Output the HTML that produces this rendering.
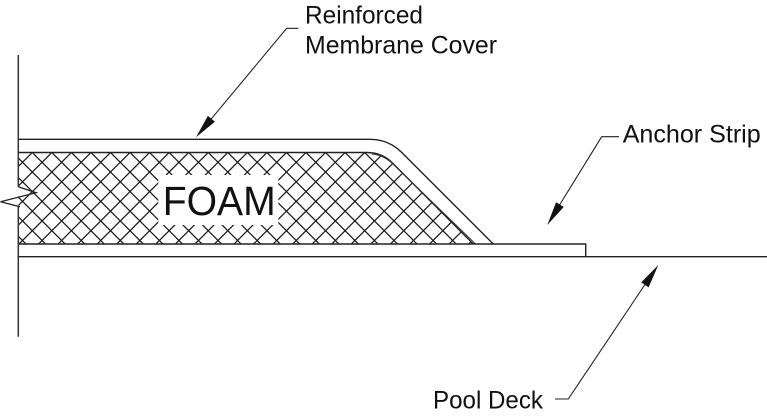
<!DOCTYPE html>
<html>
<head>
<meta charset="utf-8">
<style>
  html, body { margin: 0; padding: 0; background: #fff; }
  body { width: 767px; height: 416px; overflow: hidden; }
  svg { display: block; }
  text { font-family: "Liberation Sans", Arial, sans-serif; fill: #111; }
</style>
</head>
<body>
<svg width="767" height="416" viewBox="0 0 767 416" xmlns="http://www.w3.org/2000/svg">
  <defs>
    <clipPath id="foamclip">
      <path d="M18.3,152.5 H367 Q382,152.5 392.6,163.1 L473.3,244 H18.3 Z"/>
    </clipPath>
  </defs>

  <rect width="767" height="416" fill="#fff"/>

  <!-- Foam hatch -->
  <g clip-path="url(#foamclip)" fill="none" stroke="#1a1a1a" stroke-width="1.25">
    <path d="M-77.95,140 l110,110 M-58.4,140 l110,110 M-38.85,140 l110,110 M-19.3,140 l110,110 M0.25,140 l110,110 M19.8,140 l110,110 M39.35,140 l110,110 M58.9,140 l110,110 M78.45,140 l110,110 M98,140 l110,110 M117.55,140 l110,110 M137.1,140 l110,110 M156.65,140 l110,110 M176.2,140 l110,110 M195.75,140 l110,110 M215.3,140 l110,110 M234.85,140 l110,110 M254.4,140 l110,110 M273.95,140 l110,110 M293.5,140 l110,110 M313.05,140 l110,110 M332.6,140 l110,110 M352.15,140 l110,110 M371.7,140 l110,110 M391.25,140 l110,110 M410.8,140 l110,110 M430.35,140 l110,110 M449.9,140 l110,110"/>
    <path d="M25.25,140 l-110,110 M44.8,140 l-110,110 M64.35,140 l-110,110 M83.9,140 l-110,110 M103.45,140 l-110,110 M123,140 l-110,110 M142.55,140 l-110,110 M162.1,140 l-110,110 M181.65,140 l-110,110 M201.2,140 l-110,110 M220.75,140 l-110,110 M240.3,140 l-110,110 M259.85,140 l-110,110 M279.4,140 l-110,110 M298.95,140 l-110,110 M318.5,140 l-110,110 M338.05,140 l-110,110 M357.6,140 l-110,110 M377.15,140 l-110,110 M396.7,140 l-110,110 M416.25,140 l-110,110 M435.8,140 l-110,110 M455.35,140 l-110,110 M474.9,140 l-110,110 M494.45,140 l-110,110 M514,140 l-110,110 M533.55,140 l-110,110 M553.1,140 l-110,110 M572.65,140 l-110,110"/>
  </g>

  <!-- Foam outline (top + diagonal) -->
  <path d="M18.3,152.5 H367 Q382,152.5 392.6,163.1 L473.3,244" fill="none" stroke="#222" stroke-width="1.4"/>
  <path d="M372,154 Q384,155 394,165 L475.5,244" fill="none" stroke="#333" stroke-width="1"/>

  <!-- Membrane cover -->
  <path d="M18.3,139.3 H370 Q388.6,139.3 401.8,152.5 L493.3,244" fill="none" stroke="#222" stroke-width="1.4"/>

  <!-- Anchor strip -->
  <path d="M18.3,244 H585.7 V256.7" fill="none" stroke="#222" stroke-width="1.4"/>

  <!-- Pool deck -->
  <line x1="18.3" y1="256.7" x2="767" y2="256.7" stroke="#222" stroke-width="1.4"/>

  <!-- Wall -->
  <line x1="18.3" y1="55" x2="18.3" y2="186.7" stroke="#333" stroke-width="1.5"/>
  <line x1="18.3" y1="206.7" x2="18.3" y2="336.7" stroke="#333" stroke-width="1.5"/>
  <!-- Break symbol -->
  <polyline points="18.3,186.7 36,192.7 0.5,201.7 20,206.7" fill="none" stroke="#222" stroke-width="1.3"/>

  <!-- FOAM label -->
  <rect x="158.3" y="175" width="120" height="50" fill="#fff"/>
  <text x="162.7" y="215" font-size="41" textLength="113" lengthAdjust="spacingAndGlyphs">FOAM</text>

  <!-- Reinforced membrane cover label + leader -->
  <text x="305" y="23.3" font-size="25" textLength="118" lengthAdjust="spacingAndGlyphs">Reinforced</text>
  <text x="305" y="53.3" font-size="25" textLength="192" lengthAdjust="spacingAndGlyphs">Membrane Cover</text>
  <polyline points="298.3,28.3 286.7,28.3 208,122.8" fill="none" stroke="#222" stroke-width="1.1"/>
  <polygon points="196,137.3 214.9,121.7 207.9,115.9" fill="#111"/>

  <!-- Anchor strip label + leader -->
  <text x="622.7" y="142.3" font-size="25" textLength="138" lengthAdjust="spacingAndGlyphs">Anchor Strip</text>
  <polyline points="619,136.7 601.7,136.7 558,207.5" fill="none" stroke="#222" stroke-width="1.1"/>
  <polygon points="547.3,225 563.7,207.0 556.1,202.2" fill="#111"/>

  <!-- Pool deck label + leader -->
  <text x="433" y="408.3" font-size="25" textLength="110" lengthAdjust="spacingAndGlyphs">Pool Deck</text>
  <polyline points="555,399 568.3,399 646,283" fill="none" stroke="#222" stroke-width="1.1"/>
  <polygon points="658.3,265 648.6,287.4 641.2,282.4" fill="#111"/>
</svg>
</body>
</html>
